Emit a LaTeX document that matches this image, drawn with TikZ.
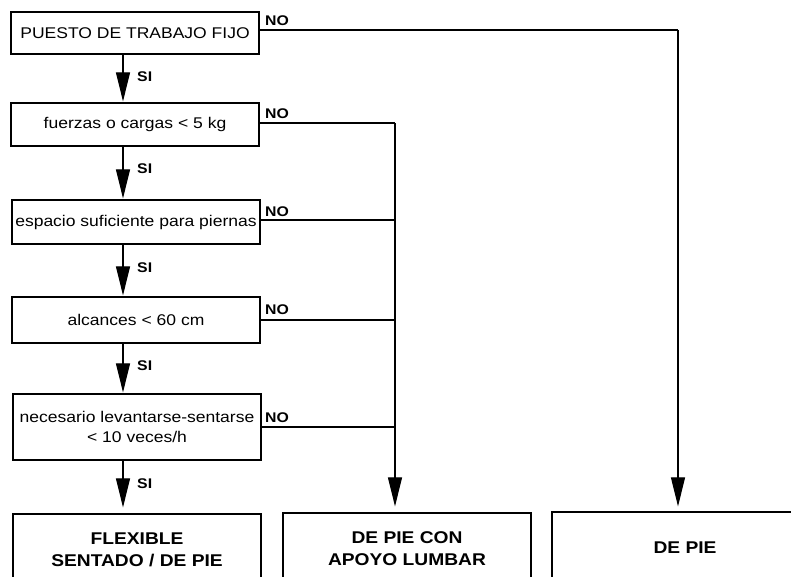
\documentclass[tikz,border=0pt]{standalone}
\usepackage{fontspec}
\setmainfont{Liberation Sans}[FakeStretch=1.13]
\usetikzlibrary{arrows.meta}
\tikzset{
  box/.style={draw, line width=1.2pt, minimum width=248pt, inner sep=0pt, align=center,
              font=\fontsize{15.5}{20}\selectfont},
  endbox/.style={draw, line width=1.2pt, minimum height=72pt, inner sep=0pt, align=center,
              font=\fontsize{17}{22}\selectfont\bfseries},
  conn/.style={line width=1.1pt},
  arr/.style={line width=1.1pt, -{Triangle[length=29pt,width=14pt]}},
  lbl/.style={font=\fontsize{14}{15}\selectfont\bfseries, inner sep=0pt},
}
\begin{document}
\begin{tikzpicture}[x=1pt,y=-1pt]
\useasboundingbox (0,0) rectangle (791,577);
\clip (0,0) rectangle (791,577);
\fill[white] (0,0) rectangle (791,577);
% boxes
\node[box, minimum height=42pt] (b1) at (135,33) {PUESTO DE TRABAJO FIJO};
\node[box, minimum height=43pt] (b2) at (135,124.5) {fuerzas o cargas < 5 kg};
\node[box, minimum height=44pt] (b3) at (136,222) {espacio suficiente para piernas};
\node[box, minimum height=46pt] (b4) at (136,320) {alcances < 60 cm};
\node[box, minimum height=66pt] (b5) at (137,427) {necesario levantarse-sentarse\\< 10 veces/h};
\node[endbox, minimum width=248pt] (b6) at (137,550) {FLEXIBLE\\SENTADO / DE PIE};
\node[endbox, minimum width=248pt] (b7) at (407,549) {DE PIE CON\\APOYO LUMBAR};
\node[endbox, minimum width=266pt] (b8) at (685,548) {DE PIE};
% helper coordinates
\coordinate (ax) at (123,0);
\coordinate (j) at (395,123);
\coordinate (k) at (678,30);
% SI arrows
\draw[arr, shorten >=1pt] (b1.south -| ax) -- (b2.north -| ax);
\draw[arr, shorten >=1pt] (b2.south -| ax) -- (b3.north -| ax);
\draw[arr, shorten >=1pt] (b3.south -| ax) -- (b4.north -| ax);
\draw[arr, shorten >=1pt] (b4.south -| ax) -- (b5.north -| ax);
\draw[arr, shorten >=6pt] (b5.south -| ax) -- (b6.north -| ax);
% SI labels
\node[lbl, anchor=west] (s1) at (137,77) {SI};
\node[lbl, anchor=west] (s2) at (137,169) {SI};
\node[lbl, anchor=west] (s3) at (137,268) {SI};
\node[lbl, anchor=west] (s4) at (137,366) {SI};
\node[lbl, anchor=west] (s5) at (137,484) {SI};
% NO lines
\draw[conn] (b1.east |- k) -- (k);
\draw[arr, shorten >=5pt] (k) -- (b8.north -| k);
\draw[conn] (b2.east |- j) -- (j);
\draw[conn] ([yshift=2pt]b3.east) -- ([yshift=2pt]b3.east -| j);
\draw[conn] (b4.east) -- (b4.east -| j);
\draw[conn] (b5.east) -- (b5.east -| j);
\draw[arr, shorten >=6pt] (j) -- (b7.north -| j);
% NO labels
\node[lbl, anchor=base west] (n1) at (265,26) {NO};
\node[lbl, anchor=base west] (n2) at (265,119) {NO};
\node[lbl, anchor=base west] (n3) at (265,216) {NO};
\node[lbl, anchor=base west] (n4) at (265,314) {NO};
\node[lbl, anchor=base west] (n5) at (265,422) {NO};
\end{tikzpicture}
\end{document}
